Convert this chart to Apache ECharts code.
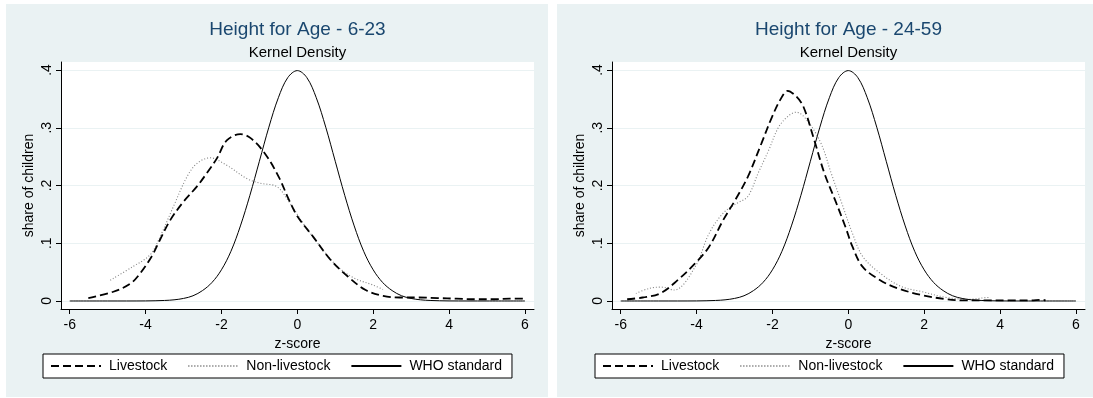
<!DOCTYPE html>
<html>
<head>
<meta charset="utf-8">
<script src="https://cdn.jsdelivr.net/npm/echarts@6/dist/echarts.min.js"></script>
<style>html,body{margin:0;padding:0;background:#fff;}#c{width:1093px;height:398px;}</style>
</head>
<body>
<div id="c"></div>
<script>
// ---- data ----
const titles = ['Height for Age - 6-23', 'Height for Age - 24-59'];
const subtitle = 'Kernel Density';
const seriesNames = ['Livestock', 'Non-livestock', 'WHO standard'];
const xTicks = [-6, -4, -2, 0, 2, 4, 6];
const yTicks = [0, 0.1, 0.2, 0.3, 0.4];

// Panel 1 (6-23 months): [z-score, density]
const livestock623 = [[-5.51,0.005],[-4.85,0.016],[-4.40,0.030],[-4.14,0.048],[-3.84,0.077],[-3.62,0.106],[-3.35,0.140],[-3.00,0.172],[-2.65,0.198],[-2.39,0.221],[-2.12,0.247],[-1.86,0.278],[-1.50,0.289],[-1.23,0.282],[-0.86,0.256],[-0.49,0.215],[-0.22,0.175],[0.01,0.146],[0.42,0.111],[0.88,0.071],[1.34,0.042],[1.80,0.019],[2.26,0.009],[2.70,0.006],[3.20,0.006],[3.70,0.005],[4.20,0.004],[4.70,0.003],[5.20,0.003],[5.60,0.004],[6.00,0.004]];
const nonLivestock623 = [[-4.93,0.036],[-4.35,0.059],[-3.88,0.080],[-3.62,0.111],[-3.27,0.163],[-2.91,0.215],[-2.65,0.238],[-2.30,0.248],[-1.86,0.235],[-1.33,0.212],[-0.98,0.204],[-0.54,0.198],[-0.22,0.172],[0.15,0.135],[0.61,0.094],[1.07,0.059],[1.52,0.039],[1.98,0.028],[2.26,0.020]];
// Panel 2 (24-59 months)
const livestock2459 = [[-5.83,0.003],[-5.42,0.006],[-4.96,0.013],[-4.50,0.036],[-4.04,0.065],[-3.67,0.094],[-3.30,0.140],[-2.98,0.175],[-2.65,0.215],[-2.29,0.273],[-2.01,0.319],[-1.78,0.350],[-1.60,0.364],[-1.37,0.354],[-1.18,0.336],[-0.90,0.279],[-0.63,0.221],[-0.35,0.175],[-0.08,0.129],[0.11,0.094],[0.38,0.059],[0.84,0.036],[1.30,0.022],[1.95,0.010],[2.59,0.003],[3.05,0.001],[3.60,0.001],[4.20,0.001],[4.80,0.001],[5.10,0.002],[5.20,0.001]];
const nonLivestock2459 = [[-5.60,0.013],[-5.24,0.022],[-4.92,0.024],[-4.59,0.019],[-4.04,0.059],[-3.67,0.117],[-3.30,0.152],[-2.94,0.169],[-2.65,0.181],[-2.38,0.221],[-2.10,0.261],[-1.83,0.302],[-1.55,0.322],[-1.37,0.327],[-1.09,0.313],[-0.72,0.273],[-0.45,0.221],[-0.17,0.169],[0.11,0.117],[0.38,0.077],[0.84,0.048],[1.40,0.025],[1.95,0.016],[2.59,0.006],[3.20,0.003],[3.70,0.006],[3.75,0.005]];
// WHO reference (standard normal density)
const whoStandard = [[-6,0],[-5,0],[-4.5,0],[-4,0.0001],[-3.5,0.0009],[-3.25,0.002],[-3,0.0044],[-2.75,0.009],[-2.5,0.018],[-2.25,0.032],[-2,0.054],[-1.75,0.086],[-1.5,0.130],[-1.25,0.183],[-1,0.242],[-0.75,0.301],[-0.5,0.352],[-0.25,0.387],[0,0.399],[0.25,0.387],[0.5,0.352],[0.75,0.301],[1,0.242],[1.25,0.183],[1.5,0.130],[1.75,0.086],[2,0.054],[2.25,0.032],[2.5,0.018],[2.75,0.009],[3,0.0044],[3.25,0.002],[3.5,0.0009],[4,0.0001],[4.5,0],[5,0],[6,0]];

const panels = [
  {liv: livestock623, non: nonLivestock623},
  {liv: livestock2459, non: nonLivestock2459}
];

// ---- layout ----
const FONT = 'Liberation Sans, Arial, sans-serif';
const BG = '#eaf2f3';
const gridLefts = [61, 612];
const plotW = 473, plotTop = 62, plotH = 247;

const chart = echarts.init(document.getElementById('c'), null, {renderer: 'canvas'});

const grids = [], xAxes = [], yAxes = [], series = [], titleOpts = [], legends = [];
panels.forEach((p, i) => {
  grids.push({left: gridLefts[i], top: plotTop, width: plotW, height: plotH, show: true, backgroundColor: '#ffffff', borderWidth: 0, containLabel: false});
  xAxes.push({
    type: 'value', gridIndex: i, min: -6.23, max: 6.24,
    name: 'z-score', nameLocation: 'middle', nameGap: 17,
    nameTextStyle: {fontFamily: FONT, fontSize: 14, color: '#000'},
    axisLine: {show: true, onZero: false, lineStyle: {color: '#000', width: 1}},
    axisTick: {show: true, length: 5, lineStyle: {color: '#000'}, customValues: xTicks},
    axisLabel: {fontFamily: FONT, fontSize: 14, color: '#000', margin: 9, customValues: xTicks, formatter: v => String(v)},
    splitLine: {show: false}
  });
  yAxes.push({
    type: 'value', gridIndex: i, min: -0.0139, max: 0.4139,
    name: 'share of children', nameLocation: 'middle', nameGap: 25,
    nameTextStyle: {fontFamily: FONT, fontSize: 14, color: '#000'},
    axisLine: {show: true, onZero: false, lineStyle: {color: '#000', width: 1}},
    axisTick: {show: true, length: 5, lineStyle: {color: '#000'}, customValues: yTicks},
    axisLabel: {fontFamily: FONT, fontSize: 14, color: '#000', margin: 7, rotate: 90, customValues: yTicks,
      formatter: v => (Math.abs(v) < 1e-9 ? '0' : String(Math.round(v * 10) / 10).replace(/^0\./, '.'))},
    splitLine: {show: true, lineStyle: {color: BG, width: 1}}
  });
  series.push({
    name: seriesNames[0], type: 'line', xAxisIndex: i, yAxisIndex: i, data: p.liv, color: '#000',
    symbol: 'none', smooth: 0.35, lineStyle: {color: '#000', width: 1.8, type: [8, 4]}, z: 3
  });
  series.push({
    name: seriesNames[1], type: 'line', xAxisIndex: i, yAxisIndex: i, data: p.non, color: '#808080',
    symbol: 'none', smooth: 0.35, lineStyle: {color: '#808080', width: 1.1, type: [1, 2]}, z: 2
  });
  series.push({
    name: seriesNames[2], type: 'line', xAxisIndex: i, yAxisIndex: i, data: whoStandard, color: '#000',
    symbol: 'none', smooth: 0.35, lineStyle: {color: '#000', width: 1}, z: 4
  });
  const cx = gridLefts[i] + plotW / 2;
  titleOpts.push({text: titles[i], left: cx, top: 20, textAlign: 'center', padding: 0,
    textStyle: {fontFamily: FONT, fontSize: 19, fontWeight: 'normal', color: '#1a476f'}});
  titleOpts.push({text: subtitle, left: cx, top: 45, textAlign: 'center', padding: 0,
    textStyle: {fontFamily: FONT, fontSize: 15, fontWeight: 'normal', color: '#000'}});
  legends.push({
    data: seriesNames, left: [43, 595][i], top: 354, orient: 'horizontal',
    backgroundColor: '#fff', borderColor: '#000', borderWidth: 1, borderRadius: 0,
    padding: [5, 10, 5, 7], itemWidth: 50, itemHeight: 14, itemGap: 20,
    selectedMode: false,
    itemStyle: {opacity: 0},
    textStyle: {fontFamily: FONT, fontSize: 14, color: '#000', padding: [0, 0, 0, 3]}
  });
});

chart.setOption({
  animation: false,
  backgroundColor: '#ffffff',
  graphic: [
    {type: 'rect', shape: {x: 6, y: 4, width: 542, height: 393}, style: {fill: BG}, z: -10, silent: true},
    {type: 'rect', shape: {x: 557, y: 4, width: 536, height: 393}, style: {fill: BG}, z: -10, silent: true}
  ],
  title: titleOpts,
  legend: legends,
  grid: grids,
  xAxis: xAxes,
  yAxis: yAxes,
  series: series
});
</script>
</body>
</html>
